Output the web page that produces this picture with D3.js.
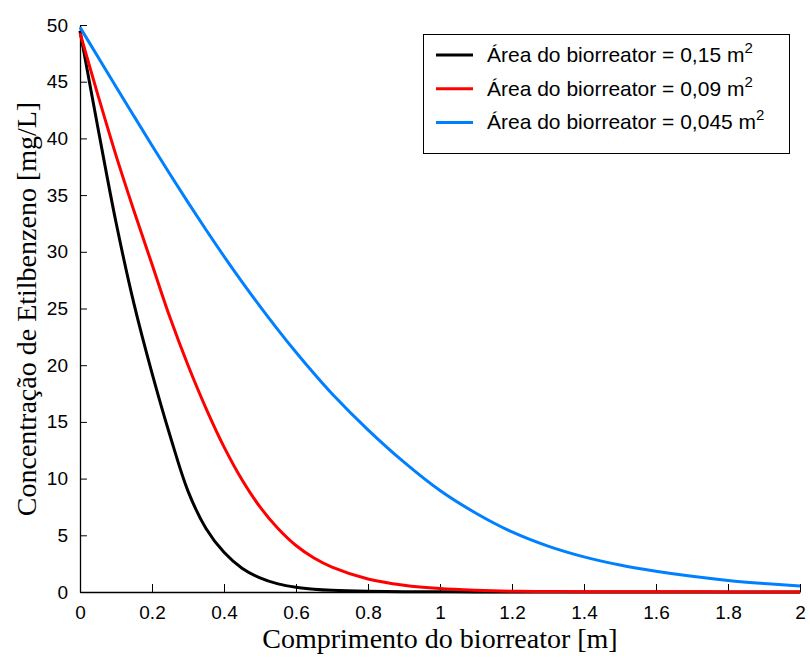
<!DOCTYPE html>
<html>
<head>
<meta charset="utf-8">
<script src="https://cdnjs.cloudflare.com/ajax/libs/d3/7.8.5/d3.min.js"></script>
<style>
  body { margin: 0; background: #fff; }
  .tick text { font-family: "Liberation Sans", Arial, sans-serif; font-size: 19px; fill: #000; }
</style>
</head>
<body>
<div id="chart-area"></div>
<script>
// Data
var comprimento = [0, 0.05, 0.1, 0.15, 0.2, 0.25, 0.3, 0.35, 0.4, 0.45, 0.5, 0.55, 0.6, 0.65, 0.7, 0.8, 0.9, 1.0, 1.1, 1.2, 1.3, 1.4, 1.5, 1.6, 1.7, 1.8, 1.9, 2.0];
var area015  = [49.5, 40.9, 32.6, 25.4, 19.3, 13.8, 8.9, 5.6, 3.5, 2.1, 1.25, 0.72, 0.42, 0.25, 0.15, 0.06, 0.03, 0.02, 0.01, 0.01, 0, 0, 0, 0, 0, 0, 0, 0];
var area009  = [49.3, 43.8, 38.5, 33.6, 28.9, 24.2, 20.0, 16.2, 12.8, 9.9, 7.5, 5.6, 4.1, 3.0, 2.2, 1.15, 0.6, 0.3, 0.15, 0.07, 0.05, 0.03, 0.025, 0.02, 0.015, 0.01, 0.01, 0.01];
var area0045 = [49.8, 47.18, 44.56, 41.96, 39.38, 36.84, 34.36, 31.94, 29.6, 27.35, 25.19, 23.12, 21.14, 19.26, 17.48, 14.3, 11.45, 8.95, 6.95, 5.3, 4.05, 3.1, 2.38, 1.83, 1.38, 1.02, 0.75, 0.53];
var seriesNames = ["Área do biorreator = 0,15 m", "Área do biorreator = 0,09 m", "Área do biorreator = 0,045 m"];
var seriesColors = ["#000000", "#ff0000", "#0080ff"];
var xTicks = [0, 0.2, 0.4, 0.6, 0.8, 1, 1.2, 1.4, 1.6, 1.8, 2];
var yTicks = [0, 5, 10, 15, 20, 25, 30, 35, 40, 45, 50];

var margin = { top: 25, bottom: 67, left: 80, right: 10 };
var width  = 810 - margin.left - margin.right;
var height = 659 - margin.top  - margin.bottom;

var svg = d3.select('#chart-area')
  .append("svg")
    .attr("width",  width  + margin.left + margin.right)
    .attr("height", height + margin.top  + margin.bottom);

var g = svg.append("g")
  .attr("transform", "translate(" + margin.left + ", " + margin.top + ")");

var x = d3.scaleLinear().domain([0, 2]).range([0, width]);
var y = d3.scaleLinear().domain([0, 50]).range([height, 0]);

// Axes with inward ticks
var xAxisGroup = g.append('g')
  .attr('transform', 'translate(0,' + height + ')')
  .call(d3.axisBottom(x).tickValues(xTicks).tickSizeInner(-8).tickSizeOuter(0).tickPadding(14)
    .tickFormat(function(d) { return String(d); }));

var yAxisGroup = g.append('g')
  .call(d3.axisLeft(y).tickValues(yTicks).tickSizeInner(-7).tickSizeOuter(0).tickPadding(12));

g.selectAll('.domain').attr('stroke', '#000').attr('stroke-width', 1.3);
g.selectAll('.tick line').attr('stroke', '#000').attr('stroke-width', 1);

// Curves
var allSeries = [area015, area009, area0045];
var line = d3.line()
  .x(function(d, i) { return x(comprimento[i]); })
  .y(function(d) { return y(Math.max(d, 0)); })
  .curve(d3.curveCatmullRom.alpha(0.5));

g.selectAll('path.curve')
  .data(allSeries)
  .enter()
  .append('path')
    .attr('class', 'curve')
    .attr('fill', 'none')
    .attr('stroke', function(d, i) { return seriesColors[i]; })
    .attr('stroke-width', 3)
    .attr('d', line);

// Axis labels
svg.append("text")
  .attr("x", margin.left + width / 2)
  .attr("y", 648)
  .attr("font-family", "'Liberation Serif', 'Times New Roman', serif")
  .attr("font-size", "28px")
  .attr("text-anchor", "middle")
  .text("Comprimento do biorreator [m]");

svg.append("text")
  .attr("x", -309)
  .attr("y", 36)
  .attr("transform", "rotate(-90)")
  .attr("font-family", "'Liberation Serif', 'Times New Roman', serif")
  .attr("font-size", "28px")
  .attr("text-anchor", "middle")
  .text("Concentração de Etilbenzeno [mg/L]");

// Legend
var legend = svg.append('g');
legend.append('rect')
  .attr('x', 423.5).attr('y', 34.5)
  .attr('width', 366).attr('height', 119)
  .attr('fill', '#fff').attr('stroke', '#000').attr('stroke-width', 1);

var rows = legend.selectAll('g.row')
  .data(seriesNames)
  .enter()
  .append('g')
    .attr('class', 'row')
    .attr('transform', function(d, i) { return 'translate(0,' + (55 + i * 33.7) + ')'; });

rows.append('line')
  .attr('x1', 436).attr('x2', 473)
  .attr('stroke', function(d, i) { return seriesColors[i]; })
  .attr('stroke-width', 3);

var lt = rows.append('text')
  .attr('x', 487)
  .attr('y', 7)
  .attr('font-family', "'Liberation Sans', Arial, sans-serif")
  .attr('font-size', '21px');
lt.append('tspan').text(function(d) { return d; });
lt.append('tspan').attr('dy', -9).attr('font-size', '15px').text('2');
</script>
</body>
</html>
